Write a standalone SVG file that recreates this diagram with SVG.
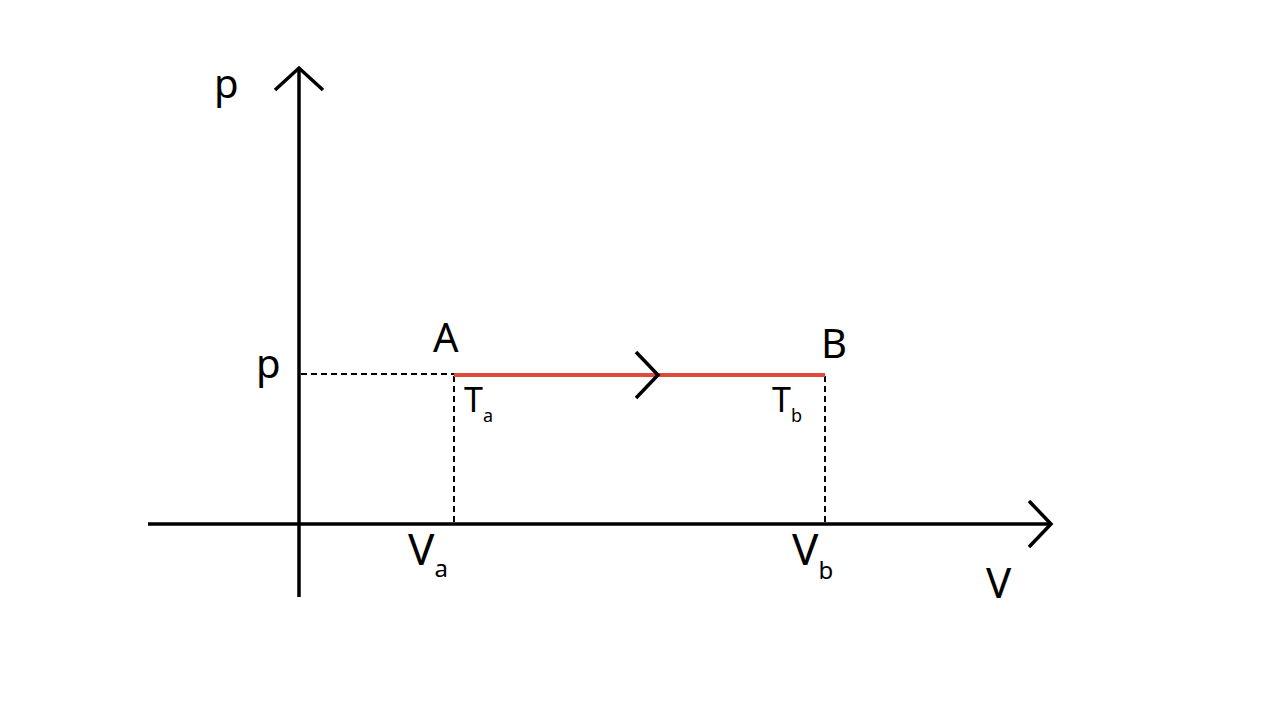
<svg xmlns="http://www.w3.org/2000/svg" width="1280" height="720" viewBox="0 0 1280 720">
<style>
.ax{stroke:#000;stroke-width:3.5;fill:none}
.ds{stroke:#000;stroke-width:2;stroke-dasharray:6,4;fill:none}
.t{font-family:"Noto Sans","DejaVu Sans",sans-serif;fill:#000}
</style>
<rect width="1280" height="720" fill="#fff"/>
<g id="connectors">
<line class="ds" x1="301" y1="374" x2="454" y2="374"/>
<line class="ds" x1="454" y1="376" x2="454" y2="523"/>
<line class="ds" x1="825" y1="376" x2="825" y2="523"/>
<line x1="454" y1="375" x2="825" y2="375" stroke="#e04a3b" stroke-width="4"/>
<polyline class="ax" points="636,352 658,375 636,398"/>
</g>
<g id="y-axis">
<line class="ax" x1="299" y1="69" x2="299" y2="597"/>
<polyline class="ax" points="275,90 299,68 323,90"/>
<text class="t" x="214" y="98" font-size="40">p</text>
</g>
<g id="x-axis">
<line class="ax" x1="148" y1="524" x2="1050" y2="524"/>
<polyline class="ax" points="1029,501 1051,524 1029,547"/>
<text class="t" x="986" y="598" font-size="42">V</text>
</g>
<g id="p-label"><text class="t" x="256" y="378" font-size="40">p</text></g>
<g id="A"><text class="t" x="433" y="352" font-size="40">A</text><text class="t" x="464" y="412" font-size="34">T<tspan font-size="18" dy="10">a</tspan></text></g>
<g id="B"><text class="t" x="821" y="358" font-size="40">B</text><text class="t" x="772" y="412" font-size="34">T<tspan font-size="18" dy="10">b</tspan></text></g>
<g id="Va"><text class="t" x="408" y="565" font-size="44">V<tspan font-size="24" dy="12">a</tspan></text></g>
<g id="Vb"><text class="t" x="792" y="565" font-size="44">V<tspan font-size="24" dy="14">b</tspan></text></g>
</svg>
